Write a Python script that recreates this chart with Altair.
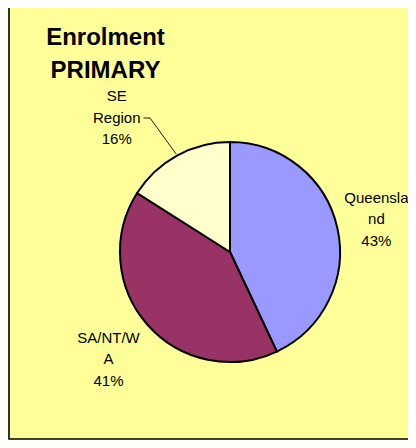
import math
import altair as alt
import pandas as pd

# ---- data ----
regions = ["Queensland", "SA/NT/WA", "SE Region"]
label_lines = [["Queensla", "nd"], ["SA/NT/W", "A"], ["SE", "Region"]]
shares = [43, 41, 16]
colors = ["#9999FF", "#993366", "#FFFFCC"]
title_lines = ["Enrolment", "PRIMARY"]

# ---- layout ----
W, H = 400, 432
CX, CY, R = 222, 244, 110
FONT = "Liberation Sans"
LH = 21.5

df = pd.DataFrame({
    "region": regions,
    "share": shares,
    "idx": list(range(len(regions))),
    "label": ["\n".join(l) for l in label_lines],
})

# background panel with border
panel = alt.Chart(pd.DataFrame({"a": [0]})).mark_rect(
    fill="#FFFF99", stroke="#000000", strokeWidth=1.6
).encode(
    x=alt.value(1), x2=alt.value(W + 6), y=alt.value(-3), y2=alt.value(H - 1)
)

pie = alt.Chart(df).mark_arc(
    radius=R, stroke="black", strokeWidth=2
).encode(
    theta=alt.Theta("share:Q", stack=True),
    order=alt.Order("idx:Q"),
    color=alt.Color("region:N", scale=alt.Scale(domain=regions, range=colors), legend=None),
    x=alt.value(CX), y=alt.value(CY),
)

stacked = alt.Chart(df).transform_window(
    cum="sum(share)", sort=[alt.SortField("idx")], frame=[None, 0]
).transform_joinaggregate(
    total="sum(share)"
).transform_calculate(
    mid="2*PI*(datum.cum - datum.share/2)/datum.total",
    txt="datum.label + '\\n' + format(datum.share/datum.total, '.0%')",
)

def label_layer(region, radius, dx=0, dy=0):
    return stacked.transform_filter(
        alt.datum.region == region
    ).mark_text(
        radius=radius, dx=dx, dy=dy - LH, font=FONT, fontSize=15, lineBreak="\n",
        lineHeight=LH, align="center", baseline="middle", color="black",
    ).encode(
        theta=alt.Theta("mid:Q", scale=None),
        text="txt:N",
        x=alt.value(CX), y=alt.value(CY),
    )

labels = [
    label_layer("Queensland", 150),
    label_layer("SA/NT/WA", 162),
    label_layer("SE Region", 150, dx=-41, dy=-3),
]

# leader line for SE Region: from pie edge at slice middle to the label
tot = sum(shares)
se_mid = 2 * math.pi * (sum(shares[:2]) + shares[2] / 2) / tot
edge = (CX + (R + 2) * math.sin(se_mid), CY - (R + 2) * math.cos(se_mid))
leader_df = pd.DataFrame({
    "px": [edge[0], 142, 135.5],
    "py": [edge[1], 110, 110],
    "k": [0, 1, 2],
})
leader = alt.Chart(leader_df).mark_line(color="black", strokeWidth=0.9).encode(
    x=alt.X("px:Q", scale=None), y=alt.Y("py:Q", scale=None), order="k:Q"
)

title = alt.Chart(pd.DataFrame({"t": ["\n".join(title_lines)]})).mark_text(
    font=FONT, fontSize=24, fontWeight="bold", lineBreak="\n", lineHeight=32.5,
    align="center", baseline="alphabetic", color="black",
).encode(text="t:N", x=alt.value(97.5), y=alt.value(37.3))

chart = alt.layer(panel, pie, *labels, leader, title).properties(
    width=W, height=H, padding=0, autosize=alt.AutoSizeParams(type="none"),
    background="white",
).configure_view(stroke=None)

chart.save("out.html", embed_options={"renderer": "svg", "actions": False})
